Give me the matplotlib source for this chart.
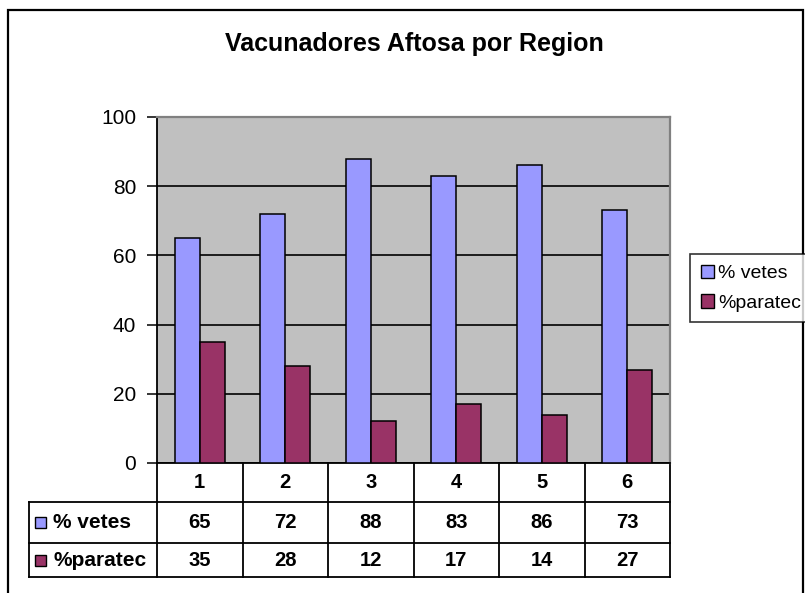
import matplotlib.pyplot as plt
from matplotlib.patches import Rectangle, Patch
import numpy as np

plt.rcParams['font.family'] = ['Liberation Sans', 'DejaVu Sans']

# data
regions = ["1", "2", "3", "4", "5", "6"]
vetes = [65, 72, 88, 83, 86, 73]
paratec = [35, 28, 12, 17, 14, 27]
series_names = ["% vetes", "%paratec"]
series_colors = ["#9999FF", "#993366"]
title = "Vacunadores Aftosa por Region"

W, H = 805, 593
fig = plt.figure(figsize=(W / 100, H / 100), dpi=100)

# outer chart border (bottom/right run off the image)
fig.patches.append(Rectangle((8 / W, -0.1), 795 / W, 1.1 - 10 / H,
                             transform=fig.transFigure, fill=False,
                             edgecolor="black", linewidth=1.6, zorder=0))

ax_l, ax_r, ax_t, ax_b = 157, 670, 117, 463
ax = fig.add_axes([ax_l / W, 1 - ax_b / H, (ax_r - ax_l) / W, (ax_b - ax_t) / H])
ax.set_facecolor("#C0C0C0")

x = np.arange(len(regions))
w = 0.29
ax.bar(x - w / 2, vetes, w, color=series_colors[0], edgecolor="black", linewidth=1.1, zorder=3)
ax.bar(x + w / 2, paratec, w, color=series_colors[1], edgecolor="black", linewidth=1.1, zorder=3)

ax.set_xlim(-0.5, len(regions) - 0.5)
ax.set_ylim(0, 100)
ax.set_yticks(np.arange(0, 101, 20))
ax.yaxis.grid(True, color="black", linewidth=1.2, zorder=1)
ax.set_axisbelow(True)
ax.tick_params(axis="y", direction="out", length=7, width=1.1, pad=8, labelsize=15)
ax.tick_params(axis="x", bottom=False, labelbottom=False)
ax.spines["top"].set_color("#808080")
ax.spines["right"].set_color("#808080")
ax.spines["top"].set_linewidth(1.6)
ax.spines["right"].set_linewidth(1.6)
ax.spines["left"].set_linewidth(1.3)
ax.spines["bottom"].set_linewidth(1.3)

# data table below the plot (axes coordinates)
ph = ax_b - ax_t
pw = ax_r - ax_l
row_edges = [0, -(502 - ax_b) / ph, -(543 - ax_b) / ph, -(577 - ax_b) / ph]
lab_left = (29 - ax_l) / pw
n = len(regions)
lkw = dict(transform=ax.transAxes, clip_on=False, color="black", linewidth=1.3)

# horizontal lines
ax.plot([lab_left, 1], [row_edges[1]] * 2, **lkw)
ax.plot([lab_left, 1], [row_edges[2]] * 2, **lkw)
ax.plot([lab_left, 1], [row_edges[3]] * 2, **lkw)
# vertical lines
for i in range(n + 1):
    ax.plot([i / n] * 2, [row_edges[0], row_edges[3]], **lkw)
ax.plot([lab_left] * 2, [row_edges[1], row_edges[3]], **lkw)

tkw = dict(transform=ax.transAxes, ha="center", va="center", fontsize=14.5,
           fontweight="bold", clip_on=False)
for i, r in enumerate(regions):
    cx = (i + 0.5) / n
    ax.text(cx, (row_edges[0] + row_edges[1]) / 2, r, **tkw)
    ax.text(cx, (row_edges[1] + row_edges[2]) / 2, str(vetes[i]), **tkw)
    ax.text(cx, (row_edges[2] + row_edges[3]) / 2, str(paratec[i]), **tkw)

sq = 11
for k, name in enumerate(series_names):
    yc = (row_edges[k + 1] + row_edges[k + 2]) / 2
    ax.add_patch(Rectangle(((35 - ax_l) / pw, yc - sq / 2 / ph), sq / pw, sq / ph,
                           transform=ax.transAxes, clip_on=False,
                           facecolor=series_colors[k], edgecolor="black", linewidth=1.0))
    ax.text((53 - ax_l) / pw, yc, name, transform=ax.transAxes, ha="left", va="center",
            fontsize=15, fontweight="bold", clip_on=False)

# legend
handles = [Patch(facecolor=c, edgecolor="black", linewidth=1.0, label=s)
           for c, s in zip(series_colors, series_names)]
leg = fig.legend(handles=handles, loc="upper left", bbox_to_anchor=(690 / W, 1 - 254 / H),
                 fontsize=14, frameon=True, fancybox=False, handlelength=0.7,
                 handleheight=0.7, handletextpad=0.2, borderpad=0.55, labelspacing=0.6,
                 borderaxespad=0)
leg.get_frame().set_edgecolor("black")
leg.get_frame().set_linewidth(1.2)

fig.text(414 / W, 1 - 44 / H, title, ha="center", va="center", fontsize=18, fontweight="bold")

fig.savefig("out.png", dpi=100)
